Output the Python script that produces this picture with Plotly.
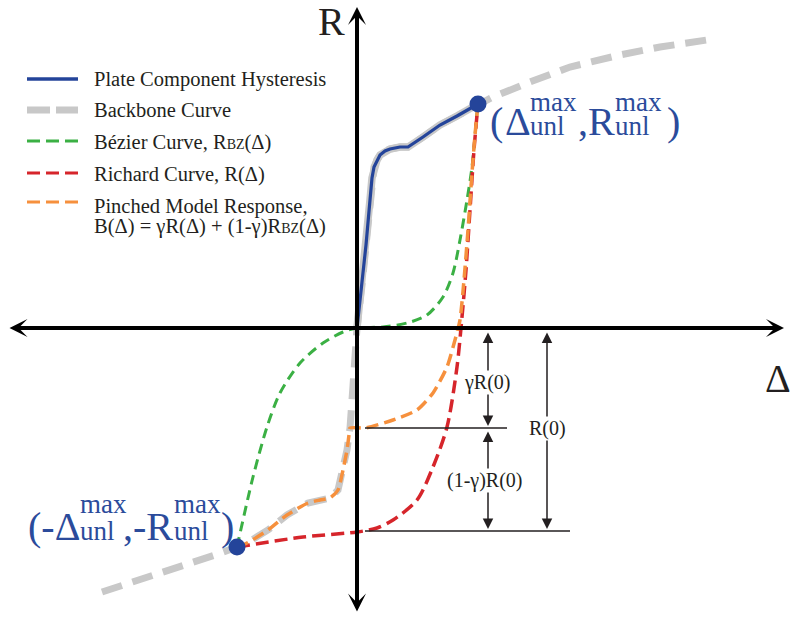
import plotly.graph_objects as go

# ---------------- data (schematic units, origin at axes crossing) ----------------
hyst_x = [0, 5, 9, 13, 15, 17, 20, 23, 28, 33, 43, 51, 66, 83, 100, 121]
hyst_y = [0, 43, 83, 128, 150, 161, 168, 173, 177, 179, 181, 181, 191, 203, 212, 224]

backbone_x = [-255, -217, -177, -142, -120, -110, -89, -70, -49, -37, -27, -19, -14, -10, -8, -7, -5, -3, -1, 0,
              5, 9, 13, 15, 17, 20, 23, 28, 33, 43, 51, 66, 83, 100, 121, 136, 173, 213, 263, 303, 350]
backbone_y = [-264, -252, -239, -227, -219, -215, -202, -187, -175, -172, -170, -162, -142, -122, -107, -100, -72, -42, -17, 0,
              43, 83, 128, 150, 161, 168, 173, 177, 179, 181, 181, 191, 203, 212, 224, 231, 246, 261, 273, 281, 288]

bezier_x = [-120, -104, -90, -77, -57, -34, -14, 0, 26, 50, 70, 86, 96, 103, 110, 115, 120, 121]
bezier_y = [-219, -149, -99, -65, -35, -15, -4, 0, 1, 5, 13, 31, 55, 88, 128, 161, 215, 224]

richard_x = [-120, -54, 0, 20, 36, 60, 76, 90, 100, 105, 109, 113, 117, 121]
richard_y = [-219, -209, -204, -200, -192, -172, -139, -99, -39, 11, 58, 118, 178, 224]

pinched_x = [-120, -110, -89, -70, -49, -37, -27, -19, -14, -10, -8, -7, 8, 36, 60, 76, 90, 98, 103, 107, 111, 115, 118, 121]
pinched_y = [-219, -215, -202, -187, -175, -172, -170, -162, -142, -122, -107, -100, -100, -92, -82, -65, -39, -12, 8, 48, 98, 155, 193, 224]

unl_max_x = [121, -120]
unl_max_y = [224, -219]

gammaR0 = -100   # level of gamma*R(0)
R0 = -203        # level of R(0)

legend_labels = ["Plate Component Hysteresis", "Backbone Curve",
                 "Bézier Curve, R<span style='font-size:14px'>BZ</span>(Δ)",
                 "Richard Curve, R(Δ)", "Pinched Model Response,",
                 "B(Δ) = γR(Δ) + (1-γ)R<span style='font-size:14px'>BZ</span>(Δ)"]

# ---------------- styles ----------------
BLUE = "#24449a"
LBLUE = "#2b4b9b"
GRAY = "#c8c8c8"
GREEN = "#3bb044"
RED = "#d6252b"
ORANGE = "#f6903d"
INK = "#231f20"
FONT = "Liberation Serif"

OX, OY = 357, 328  # pixel position of origin


def P(px, py):
    return px - OX, OY - py


fig = go.Figure()

fig.add_trace(go.Scatter(x=backbone_x, y=backbone_y, mode="lines",
                         line=dict(color=GRAY, width=7, dash="21px,11px")))
fig.add_trace(go.Scatter(x=hyst_x, y=hyst_y, mode="lines",
                         line=dict(color=GRAY, width=7.5)))
fig.add_trace(go.Scatter(x=bezier_x, y=bezier_y, mode="lines",
                         line=dict(color=GREEN, width=3, dash="10px,6px", shape="spline", smoothing=0.8)))
fig.add_trace(go.Scatter(x=richard_x, y=richard_y, mode="lines",
                         line=dict(color=RED, width=3.5, dash="13px,6px", shape="spline", smoothing=0.8)))
fig.add_trace(go.Scatter(x=pinched_x, y=pinched_y, mode="lines",
                         line=dict(color=ORANGE, width=3.5, dash="12px,6px", shape="spline", smoothing=0.6)))
fig.add_trace(go.Scatter(x=hyst_x, y=hyst_y, mode="lines",
                         line=dict(color=BLUE, width=3.2)))
fig.add_trace(go.Scatter(x=unl_max_x, y=unl_max_y, mode="markers",
                         marker=dict(color=BLUE, size=17)))

ann = []
shapes = []

# main axes (double-headed arrows)
x0, _ = P(8, 0)
x1, _ = P(784, 0)
_, y0 = P(0, 613)
_, y1 = P(0, 7)
for (hx, hy, tx, ty) in [(x1, 0, x0, 0), (0, y1, 0, y0)]:
    ann.append(dict(x=hx, y=hy, ax=tx, ay=ty, xref="x", yref="y", axref="x", ayref="y",
                    text="", showarrow=True, arrowhead=3, startarrowhead=3, arrowside="end+start",
                    arrowwidth=4, arrowsize=0.75, startarrowsize=0.75, arrowcolor="black",
                    standoff=0, startstandoff=0))

# dimension reference lines
shapes.append(dict(type="line", xref="x", yref="y", x0=8, x1=150, y0=gammaR0, y1=gammaR0,
                   line=dict(color=INK, width=1.6)))
shapes.append(dict(type="line", xref="x", yref="y", x0=8, x1=213, y0=R0, y1=R0,
                   line=dict(color=INK, width=1.6)))

# dimension arrows
for (xx, ya, yb) in [(131, -3, gammaR0 + 2), (131, gammaR0 - 2, R0 + 2), (190, -3, R0 + 2)]:
    ann.append(dict(x=xx, y=yb, ax=xx, ay=ya, xref="x", yref="y", axref="x", ayref="y",
                    text="", showarrow=True, arrowhead=2, startarrowhead=2, arrowside="end+start",
                    arrowwidth=1.5, arrowsize=1.4, startarrowsize=1.4, arrowcolor=INK,
                    standoff=0, startstandoff=0))

def txt(x, y, s, size, color=INK, xanchor="left", bg=None):
    d = dict(x=x, y=y, xref="x", yref="y", text=s, showarrow=False, xanchor=xanchor, yanchor="middle",
             font=dict(family=FONT, size=size, color=color), borderpad=0)
    if bg:
        d["bgcolor"] = bg
    ann.append(d)

txt(130, -54, "γR(0)", 20, xanchor="center", bg="white")
txt(190, -100, "R(0)", 20, xanchor="center", bg="white")
txt(127, -152, "(1-γ)R(0)", 20, xanchor="center", bg="white")

# axis labels
txt(*P(317, 21.5), "R", 40)
txt(*P(764, 378), "Δ", 40)

# (Δmax_unl, Rmax_unl) label, with stacked super/subscripts
BIG, SM = 40, 27
txt(*P(489, 121.5), "(", BIG, LBLUE)
txt(*P(504, 121.5), "Δ", BIG, LBLUE)
txt(*P(529, 102), "max", SM, LBLUE)
txt(*P(529, 126), "unl", SM, LBLUE)
txt(*P(577, 121.5), ",R", BIG, LBLUE)
txt(*P(614, 102), "max", SM, LBLUE)
txt(*P(614, 126), "unl", SM, LBLUE)
txt(*P(666, 121.5), ")", BIG, LBLUE)

txt(*P(27, 526.5), "(-Δ", BIG, LBLUE)
txt(*P(79, 503.5), "max", SM, LBLUE)
txt(*P(79, 531), "unl", SM, LBLUE)
txt(*P(122, 526.5), ",-R", BIG, LBLUE)
txt(*P(173, 503.5), "max", SM, LBLUE)
txt(*P(173, 531), "unl", SM, LBLUE)
txt(*P(220, 526.5), ")", BIG, LBLUE)

# manual legend
leg_styles = [dict(color=BLUE, width=3.5, dash="solid"),
              dict(color=GRAY, width=7, dash="23px,6px"),
              dict(color=GREEN, width=3, dash="13px,6px"),
              dict(color=RED, width=3, dash="13px,6px"),
              dict(color=ORANGE, width=3, dash="13px,6px")]
leg_sample_y = [79, 110, 141, 173, 202]
leg_text_y = [79, 110, 142, 174, 206, 226]
for st, py in zip(leg_styles, leg_sample_y):
    a, b = P(27, py)
    c, _ = P(78, py)
    shapes.append(dict(type="line", xref="x", yref="y", x0=a, x1=c, y0=b, y1=b, line=st))
for lab, py in zip(legend_labels, leg_text_y):
    txt(*P(93, py), lab, 20.5)

fig.update_layout(
    width=790, height=620, margin=dict(l=0, r=0, t=0, b=0),
    paper_bgcolor="white", plot_bgcolor="white", showlegend=False,
    xaxis=dict(range=[-OX, 790 - OX], visible=False, fixedrange=True),
    yaxis=dict(range=[OY - 620, OY], visible=False, fixedrange=True),
    annotations=ann, shapes=shapes,
)

fig.write_html("out.html")
